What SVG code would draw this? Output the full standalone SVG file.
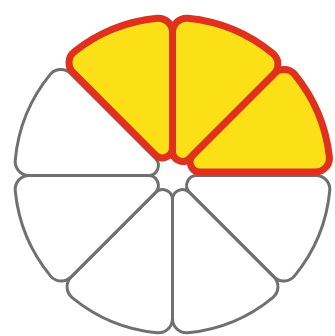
<svg xmlns="http://www.w3.org/2000/svg" width="335" height="336" viewBox="0 0 335 336">
<style>
.off{fill:#ffffff;stroke:#707070;stroke-width:3;stroke-linejoin:round}
.on{fill:#fbe018;stroke:#e0301e;stroke-width:7;stroke-linejoin:round}
</style>
<rect width="335" height="336" fill="#ffffff"/>
<g id="s0"><path class="off" d="M196.642,175.5 L315.818,175.5 A14,14 0 0 1 329.751,190.861 A158,158 0 0 1 294.555,275.832 A14,14 0 0 1 273.842,276.842 L189.571,192.571 A10,10 0 0 1 196.642,175.5 Z"/></g>
<g id="s1"><path class="off" d="M189.571,192.571 L273.842,276.842 A14,14 0 0 1 272.832,297.555 A158,158 0 0 1 187.861,332.751 A14,14 0 0 1 172.5,318.818 L172.5,199.642 A10,10 0 0 1 189.571,192.571 Z"/></g>
<g id="s2"><path class="off" d="M172.5,199.642 L172.5,318.818 A14,14 0 0 1 157.139,332.751 A158,158 0 0 1 72.168,297.555 A14,14 0 0 1 71.158,276.842 L155.429,192.571 A10,10 0 0 1 172.5,199.642 Z"/></g>
<g id="s3"><path class="off" d="M155.429,192.571 L71.158,276.842 A14,14 0 0 1 50.445,275.832 A158,158 0 0 1 15.249,190.861 A14,14 0 0 1 29.182,175.5 L148.358,175.5 A10,10 0 0 1 155.429,192.571 Z"/></g>
<g id="s4"><path class="off" d="M148.358,175.5 L29.182,175.5 A14,14 0 0 1 15.249,160.139 A158,158 0 0 1 50.445,74.168 A14,14 0 0 1 71.158,74.158 L155.429,158.429 A10,10 0 0 1 148.358,175.5 Z"/></g>
<g id="s5"><path class="on" d="M155.429,154.893 L73.115,72.579 A14,14 0 0 1 74.314,51.712 A158,158 0 0 1 157.139,18.249 A14,14 0 0 1 172.5,32.182 L172.5,147.822 A10,10 0 0 1 155.429,154.893 Z"/></g>
<g id="s6"><path class="on" d="M172.5,151.358 L172.5,32.182 A14,14 0 0 1 187.861,18.249 A158,158 0 0 1 272.832,53.445 A14,14 0 0 1 273.842,74.158 L189.571,158.429 A10,10 0 0 1 172.5,151.358 Z"/></g>
<g id="s7"><path class="on" d="M193.071,154.929 L273.842,74.158 A14,14 0 0 1 294.555,74.168 A158,158 0 0 1 329.329,156.295 A14,14 0 0 1 315.433,172 L200.142,172 A10,10 0 0 1 193.071,154.929 Z"/></g>
</svg>
